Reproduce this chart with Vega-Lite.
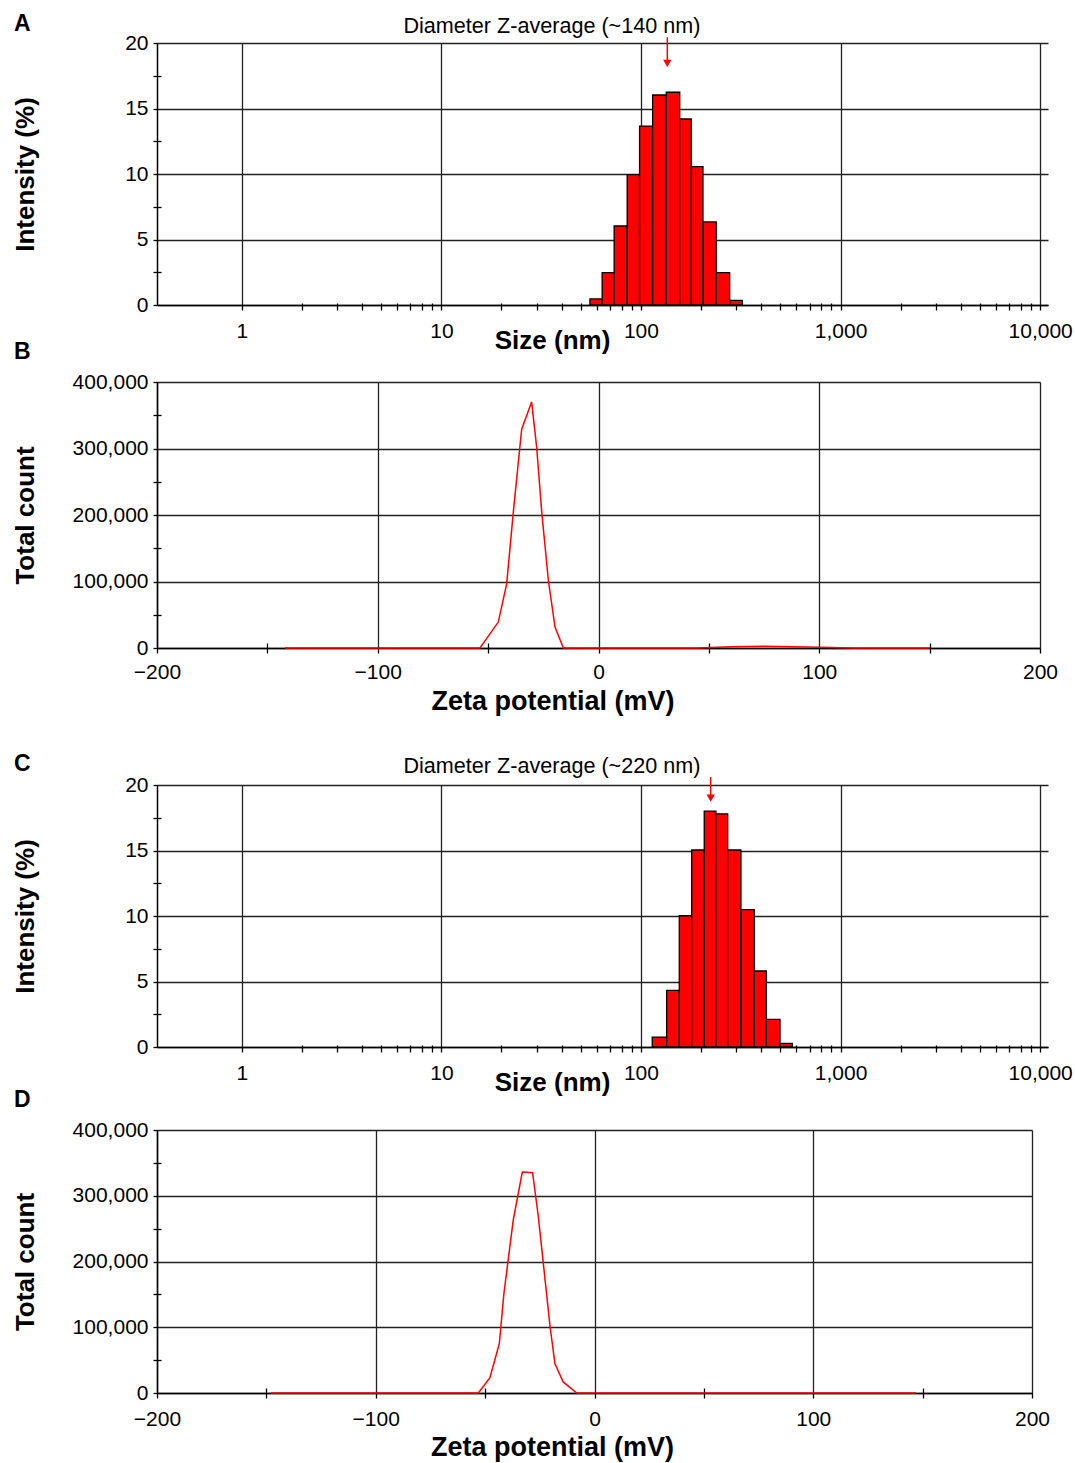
{
  "$schema": "https://vega.github.io/schema/vega-lite/v6.json",
  "padding": {"left": 12, "top": 12, "right": 5, "bottom": 5},
  "autosize": {"type": "pad"},
  "config": {
    "view": {"stroke": null},
    "font": "Liberation Sans",
    "axis": {
      "domainColor": "black", "domainWidth": 1.5,
      "tickColor": "black", "tickWidth": 1.3,
      "gridColor": "#222", "gridWidth": 1.3,
      "labelFont": "Liberation Sans", "labelFontSize": 21, "labelColor": "black",
      "titleFont": "Liberation Sans", "titleFontSize": 26, "titleFontWeight": "bold", "titleColor": "black",
      "labelFlush": false, "labelOverlap": false
    }
  },
  "spacing": 39,
  "bounds": "full",
  "vconcat": [
    {
      "spacing": 77,
      "bounds": "flush",
      "vconcat": [
        {
          "width": 891, "height": 262,
          "title": {"text": "A", "anchor": "start", "frame": "group", "dx": -143, "dy": 38, "offset": 0, "baseline": "alphabetic", "fontSize": 23, "fontWeight": "bold", "color": "black"},
          "resolve": {"axis": {"x": "independent", "y": "independent"}},
          "layer": [
            {
              "data": {"values": [
                {"lo": 55.5, "hi": 63.9, "v": 0.46},
                {"lo": 63.9, "hi": 73.4, "v": 2.47},
                {"lo": 73.4, "hi": 85.3, "v": 6.03},
                {"lo": 85.3, "hi": 98.4, "v": 9.95},
                {"lo": 98.4, "hi": 114.4, "v": 13.66},
                {"lo": 114.4, "hi": 133.9, "v": 16.03},
                {"lo": 133.9, "hi": 156.4, "v": 16.24},
                {"lo": 156.4, "hi": 178.8, "v": 14.2},
                {"lo": 178.8, "hi": 204.5, "v": 10.56},
                {"lo": 204.5, "hi": 238.3, "v": 6.34},
                {"lo": 238.3, "hi": 278.3, "v": 2.47},
                {"lo": 278.3, "hi": 322.0, "v": 0.36}
              ]},
              "mark": {"type": "rect", "fill": "#ff0000", "stroke": "black", "strokeWidth": 1.3},
              "encoding": {
                "x": {"field": "lo", "type": "quantitative",
                  "scale": {"type": "log", "domain": [0.376, 10950], "nice": false},
                  "axis": {"values": [1, 10, 100, 1000, 10000], "format": ",", "grid": true, "tickSize": 5, "labelPadding": 10,
                    "title": "Size (nm)", "titleX": 395, "titleY": 43, "titleBaseline": "alphabetic", "titleAlign": "center"}},
                "x2": {"field": "hi"},
                "y": {"field": "v", "type": "quantitative",
                  "scale": {"domain": [0, 20], "nice": false, "zero": true},
                  "axis": {"values": [0, 5, 10, 15, 20], "grid": true, "tickSize": 4, "labelPadding": 5,
                    "title": "Intensity (%)", "titleX": -124, "titleBaseline": "alphabetic"}},
                "y2": {"datum": 0}
              }
            },
            {
              "data": {"values": [{"x": 135.5, "y": 20.44, "y2": 18.7}]},
              "mark": {"type": "rule", "color": "#ff0000", "strokeWidth": 1.5, "clip": false},
              "encoding": {
                "x": {"field": "x", "type": "quantitative", "axis": null},
                "y": {"field": "y", "type": "quantitative", "axis": null},
                "y2": {"field": "y2"}
              }
            },
            {
              "data": {"values": [{"x": 135.5, "y": 18.45}]},
              "mark": {"type": "point", "shape": "triangle-down", "filled": true, "color": "#ff0000", "size": 70, "opacity": 1, "clip": false},
              "encoding": {
                "x": {"field": "x", "type": "quantitative", "axis": null},
                "y": {"field": "y", "type": "quantitative", "axis": null}
              }
            },
            {
              "data": {"values": [{"x": 35.8, "y": 20.79, "t": "Diameter Z-average (~140 nm)"}]},
              "mark": {"type": "text", "fontSize": 21.6, "align": "center", "baseline": "alphabetic", "color": "black", "clip": false},
              "encoding": {
                "x": {"field": "x", "type": "quantitative", "axis": null},
                "y": {"field": "y", "type": "quantitative", "axis": null},
                "text": {"field": "t"}
              }
            },
            {
              "data": {"values": [{"lo": 100, "v": 10}]},
              "mark": {"type": "point", "opacity": 0},
              "encoding": {
                "x": {"field": "lo", "type": "quantitative",
                  "axis": {"orient": "bottom", "values": [2,3,4,5,6,7,8,9,20,30,40,50,60,70,80,90,200,300,400,500,600,700,800,900,2000,3000,4000,5000,6000,7000,8000,9000],
                    "labels": false, "domain": false, "grid": false, "tickSize": 7, "offset": -2, "title": null}},
                "y": {"field": "v", "type": "quantitative",
                  "axis": {"orient": "left", "values": [2.5, 7.5, 12.5, 17.5], "labels": false, "domain": false, "grid": false, "tickSize": 8, "offset": -4, "title": null}}
              }
            }
          ]
        },
        {
          "width": 883, "height": 266,
          "title": {"text": "B", "anchor": "start", "frame": "group", "dx": -143, "dy": 11, "offset": 0, "baseline": "alphabetic", "fontSize": 23, "fontWeight": "bold", "color": "black"},
          "resolve": {"axis": {"x": "independent", "y": "independent"}},
          "layer": [
            {
              "data": {"values": [
                {"z": -142, "c": 0}, {"z": -60, "c": 0}, {"z": -53.7, "c": 0}, {"z": -45.4, "c": 39000},
                {"z": -41.6, "c": 96500}, {"z": -38.6, "c": 204000}, {"z": -34.8, "c": 329000}, {"z": -30.3, "c": 370000},
                {"z": -28, "c": 301500}, {"z": -25.7, "c": 204000}, {"z": -22.7, "c": 101500}, {"z": -19.7, "c": 31500},
                {"z": -15.9, "c": 0}, {"z": 0, "c": 0}, {"z": 45, "c": 0}, {"z": 60, "c": 2000}, {"z": 75, "c": 2500},
                {"z": 95, "c": 1500}, {"z": 115, "c": 0}, {"z": 150, "c": 0}
              ]},
              "mark": {"type": "line", "color": "#ff0000", "strokeWidth": 1.5},
              "encoding": {
                "x": {"field": "z", "type": "quantitative",
                  "scale": {"domain": [-200, 200], "nice": false, "zero": false},
                  "axis": {"values": [-200, -100, 0, 100, 200], "grid": true, "tickSize": 5, "labelPadding": 8,
                    "title": "Zeta potential (mV)", "titleFontSize": 27, "titleX": 395.5, "titleY": 61, "titleBaseline": "alphabetic", "titleAlign": "center"}},
                "y": {"field": "c", "type": "quantitative",
                  "scale": {"domain": [0, 400000], "nice": false},
                  "axis": {"values": [0, 100000, 200000, 300000, 400000], "format": ",d", "grid": true, "tickSize": 4, "labelPadding": 5,
                    "title": "Total count", "titleX": -124, "titleBaseline": "alphabetic"}}
              }
            },
            {
              "data": {"values": [{"z": 0, "c": 0}]},
              "mark": {"type": "point", "opacity": 0},
              "encoding": {
                "x": {"field": "z", "type": "quantitative",
                  "axis": {"orient": "bottom", "values": [-150, -50, 50, 150], "labels": false, "domain": false, "grid": false, "tickSize": 10, "offset": -5, "title": null}},
                "y": {"field": "c", "type": "quantitative",
                  "axis": {"orient": "left", "values": [50000, 150000, 250000, 350000], "labels": false, "domain": false, "grid": false, "tickSize": 8, "offset": -4, "title": null}}
              }
            }
          ]
        }
      ]
    },
    {
      "spacing": 83,
      "bounds": "flush",
      "vconcat": [
        {
          "width": 891, "height": 262,
          "title": {"text": "C", "anchor": "start", "frame": "group", "dx": -143, "dy": 38, "offset": 0, "baseline": "alphabetic", "fontSize": 23, "fontWeight": "bold", "color": "black"},
          "resolve": {"axis": {"x": "independent", "y": "independent"}},
          "layer": [
            {
              "data": {"values": [
                {"lo": 113.9, "hi": 134.5, "v": 0.76},
                {"lo": 134.5, "hi": 155.6, "v": 4.33},
                {"lo": 155.6, "hi": 179.6, "v": 10.02},
                {"lo": 179.6, "hi": 207.5, "v": 15.04},
                {"lo": 207.5, "hi": 237.5, "v": 18.0},
                {"lo": 237.5, "hi": 272.0, "v": 17.8},
                {"lo": 272.0, "hi": 316.9, "v": 15.04},
                {"lo": 316.9, "hi": 369.6, "v": 10.48},
                {"lo": 369.6, "hi": 424.8, "v": 5.8},
                {"lo": 424.8, "hi": 497.4, "v": 2.11},
                {"lo": 497.4, "hi": 573.1, "v": 0.28}
              ]},
              "mark": {"type": "rect", "fill": "#ff0000", "stroke": "black", "strokeWidth": 1.3},
              "encoding": {
                "x": {"field": "lo", "type": "quantitative",
                  "scale": {"type": "log", "domain": [0.376, 10950], "nice": false},
                  "axis": {"values": [1, 10, 100, 1000, 10000], "format": ",", "grid": true, "tickSize": 5, "labelPadding": 10,
                    "title": "Size (nm)", "titleX": 395, "titleY": 43, "titleBaseline": "alphabetic", "titleAlign": "center"}},
                "x2": {"field": "hi"},
                "y": {"field": "v", "type": "quantitative",
                  "scale": {"domain": [0, 20], "nice": false, "zero": true},
                  "axis": {"values": [0, 5, 10, 15, 20], "grid": true, "tickSize": 4, "labelPadding": 5,
                    "title": "Intensity (%)", "titleX": -124, "titleBaseline": "alphabetic"}},
                "y2": {"datum": 0}
              }
            },
            {
              "data": {"values": [{"x": 223.5, "y": 20.61, "y2": 19.2}]},
              "mark": {"type": "rule", "color": "#ff0000", "strokeWidth": 1.5, "clip": false},
              "encoding": {
                "x": {"field": "x", "type": "quantitative", "axis": null},
                "y": {"field": "y", "type": "quantitative", "axis": null},
                "y2": {"field": "y2"}
              }
            },
            {
              "data": {"values": [{"x": 223.5, "y": 19.0}]},
              "mark": {"type": "point", "shape": "triangle-down", "filled": true, "color": "#ff0000", "size": 70, "opacity": 1, "clip": false},
              "encoding": {
                "x": {"field": "x", "type": "quantitative", "axis": null},
                "y": {"field": "y", "type": "quantitative", "axis": null}
              }
            },
            {
              "data": {"values": [{"x": 35.8, "y": 20.88, "t": "Diameter Z-average (~220 nm)"}]},
              "mark": {"type": "text", "fontSize": 21.6, "align": "center", "baseline": "alphabetic", "color": "black", "clip": false},
              "encoding": {
                "x": {"field": "x", "type": "quantitative", "axis": null},
                "y": {"field": "y", "type": "quantitative", "axis": null},
                "text": {"field": "t"}
              }
            },
            {
              "data": {"values": [{"lo": 100, "v": 10}]},
              "mark": {"type": "point", "opacity": 0},
              "encoding": {
                "x": {"field": "lo", "type": "quantitative",
                  "axis": {"orient": "bottom", "values": [2,3,4,5,6,7,8,9,20,30,40,50,60,70,80,90,200,300,400,500,600,700,800,900,2000,3000,4000,5000,6000,7000,8000,9000],
                    "labels": false, "domain": false, "grid": false, "tickSize": 7, "offset": -2, "title": null}},
                "y": {"field": "v", "type": "quantitative",
                  "axis": {"orient": "left", "values": [2.5, 7.5, 12.5, 17.5], "labels": false, "domain": false, "grid": false, "tickSize": 8, "offset": -4, "title": null}}
              }
            }
          ]
        },
        {
          "width": 875, "height": 263,
          "title": {"text": "D", "anchor": "start", "frame": "group", "dx": -143, "dy": 11, "offset": 0, "baseline": "alphabetic", "fontSize": 23, "fontWeight": "bold", "color": "black"},
          "resolve": {"axis": {"x": "independent", "y": "independent"}},
          "layer": [
            {
              "data": {"values": [
                {"z": -148, "c": 0}, {"z": -53.1, "c": 0}, {"z": -47.8, "c": 23400}, {"z": -43.5, "c": 75300},
                {"z": -41.4, "c": 151700}, {"z": -37.1, "c": 264000}, {"z": -33, "c": 336000}, {"z": -28.3, "c": 335000},
                {"z": -25.7, "c": 268800}, {"z": -20.3, "c": 100800}, {"z": -18.1, "c": 44800}, {"z": -14.3, "c": 16800},
                {"z": -8.1, "c": 0}, {"z": 147, "c": 0}
              ]},
              "mark": {"type": "line", "color": "#ff0000", "strokeWidth": 1.5},
              "encoding": {
                "x": {"field": "z", "type": "quantitative",
                  "scale": {"domain": [-200, 200], "nice": false, "zero": false},
                  "axis": {"values": [-200, -100, 0, 100, 200], "grid": true, "tickSize": 5, "labelPadding": 10,
                    "title": "Zeta potential (mV)", "titleFontSize": 27, "titleX": 395, "titleY": 62, "titleBaseline": "alphabetic", "titleAlign": "center"}},
                "y": {"field": "c", "type": "quantitative",
                  "scale": {"domain": [0, 400000], "nice": false},
                  "axis": {"values": [0, 100000, 200000, 300000, 400000], "format": ",d", "grid": true, "tickSize": 4, "labelPadding": 5,
                    "title": "Total count", "titleX": -124, "titleBaseline": "alphabetic"}}
              }
            },
            {
              "data": {"values": [{"z": 0, "c": 0}]},
              "mark": {"type": "point", "opacity": 0},
              "encoding": {
                "x": {"field": "z", "type": "quantitative",
                  "axis": {"orient": "bottom", "values": [-150, -50, 50, 150], "labels": false, "domain": false, "grid": false, "tickSize": 10, "offset": -5, "title": null}},
                "y": {"field": "c", "type": "quantitative",
                  "axis": {"orient": "left", "values": [50000, 150000, 250000, 350000], "labels": false, "domain": false, "grid": false, "tickSize": 8, "offset": -4, "title": null}}
              }
            }
          ]
        }
      ]
    }
  ]
}
